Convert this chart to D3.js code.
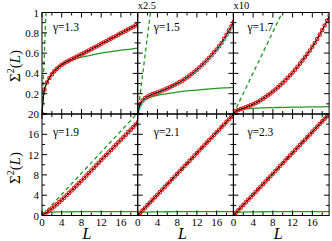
<!DOCTYPE html>
<html><head><meta charset="utf-8">
<script src="https://cdn.jsdelivr.net/npm/d3@7"></script>
<style>body{margin:0;background:#fff}svg{display:block}</style>
</head><body><svg id="c" width="332" height="241"></svg>
<script>
// ---------- data ----------
const markerL = [0,0.5,1,1.5,2,2.5,3,3.5,4,4.5,5,5.5,6,6.5,7,7.5,8,8.5,9,9.5,10,10.5,11,11.5,12,12.5,13,13.5,14,14.5,15,15.5,16,16.5,17,17.5,18,18.5,19,19.5];
const redA = [0,0.24,0.31,0.355,0.39,0.42,0.445,0.465,0.485,0.50,0.515,0.527,0.54,0.552,0.564,0.576,0.588,0.60,0.613,0.626,0.639,0.652,0.665,0.678,0.691,0.704,0.717,0.73,0.743,0.756,0.769,0.782,0.795,0.808,0.821,0.834,0.847,0.86,0.873,0.886];
const redB = [0,0.25,0.33,0.39,0.43,0.46,0.49,0.51,0.53,0.555,0.58,0.605,0.63,0.66,0.69,0.72,0.75,0.785,0.82,0.86,0.90,0.945,0.99,1.04,1.09,1.145,1.20,1.26,1.32,1.385,1.45,1.52,1.59,1.67,1.75,1.85,1.95,2.06,2.16,2.27];
const redC = [0,0.28,0.40,0.49,0.57,0.66,0.75,0.85,0.96,1.08,1.21,1.36,1.51,1.67,1.84,2.02,2.21,2.41,2.62,2.84,3.07,3.31,3.56,3.82,4.09,4.37,4.66,4.96,5.27,5.59,5.92,6.26,6.62,7.0,7.4,7.82,8.26,8.72,9.2,9.7];
const redD = [0,0.3,0.65,1.02,1.4,1.8,2.2,2.63,3.07,3.52,3.98,4.45,4.92,5.4,5.88,6.37,6.86,7.35,7.85,8.35,8.86,9.37,9.88,10.4,10.92,11.42,11.92,12.42,12.92,13.42,13.92,14.42,14.92,15.42,15.92,16.42,16.92,17.42,17.92,18.42];
const redE = [0,0.51,1.03,1.54,2.05,2.56,3.08,3.59,4.1,4.61,5.13,5.64,6.15,6.66,7.18,7.69,8.2,8.71,9.23,9.74,10.25,10.76,11.28,11.79,12.3,12.81,13.33,13.84,14.35,14.86,15.38,15.89,16.4,16.91,17.43,17.94,18.45,18.96,19.48,19.99];
const redF = [0,0.52,1.03,1.55,2.06,2.58,3.09,3.61,4.12,4.64,5.15,5.67,6.18,6.7,7.21,7.73,8.24,8.76,9.27,9.79,10.3,10.82,11.33,11.85,12.36,12.88,13.39,13.91,14.42,14.94,15.45,15.97,16.48,17.0,17.51,18.03,18.54,19.06,19.57,20.09];

const cyanL = [0,2,4,6,8,10,12,14,16,18,19.4];
const cyanB = [0,0.43,0.53,0.63,0.745,0.89,1.07,1.29,1.55,1.88,2.15];

const greenL = [0,0.25,0.5,1,1.5,2,3,4,6,8,10,12,14,16,18,19.4];
const greenA = [0,0.17,0.23,0.31,0.36,0.40,0.45,0.49,0.53,0.56,0.58,0.60,0.615,0.63,0.64,0.65];
const greenB = [0,0.15,0.22,0.30,0.35,0.38,0.43,0.46,0.50,0.54,0.57,0.59,0.61,0.63,0.645,0.655];
const greenC = [0,0.20,0.28,0.38,0.44,0.48,0.53,0.56,0.60,0.63,0.65,0.67,0.685,0.70,0.71,0.72];
const greenLow = [0,0.35,0.5,0.6,0.65,0.68,0.71,0.72,0.74,0.75,0.76,0.765,0.77,0.775,0.78,0.78];

const dashL = [[0,0.8],[0,2.58],[0,9.9],[0,19.4],[0,19.4],[0,19.4]];
const dashV = [[0,1.0],[0,2.5],[0,10],[0,20.2],[0,19.9],[0,20.0]];

const gammaLabels = ["γ=1.3","γ=1.5","γ=1.7","γ=1.9","γ=2.1","γ=2.3"];
const yMax = [1,2.5,10,20,20,20];
const scaleNotes = ["","x2.5","x10"];
const xTickLabels = ["0","4","8","12","16"];
const yTickLabelsTop = ["","0.2","0.4","0.6","0.8","1"];
const yTickLabelsBottom = ["0","4","8","12","16","20"];

const reds = [redA,redB,redC,redD,redE,redF];
const greens = [greenA,greenB,greenC,greenLow,greenLow,greenLow];

// ---------- layout ----------
const svg = d3.select("#c");
const mLeft = 42, mTop = 12.5, colW = 95.7, rowH = 101.5;
const font = "'Liberation Serif','Times New Roman',serif";
const green = "#1f9a1f";

for (let p = 0; p < 6; p++) {
  const col = p % 3, row = Math.floor(p / 3);
  const x0 = mLeft + col * colW, y0 = mTop + row * rowH;
  const x = d3.scaleLinear().domain([0, 19.4]).range([x0, x0 + colW]);
  const y = d3.scaleLinear().domain([0, yMax[p]]).range([y0 + rowH, y0]);
  const g = svg.append("g");
  const cid = "clip" + p;
  svg.append("clipPath").attr("id", cid).append("rect")
    .attr("x", x0).attr("y", y0).attr("width", colW).attr("height", rowH);
  const pg = g.append("g").attr("clip-path", `url(#${cid})`);
  const line = d3.line().x(d => x(d[0])).y(d => y(d[1])).curve(d3.curveMonotoneX);

  pg.append("path").datum(greenL.map((l, i) => [l, greens[p][i]]))
    .attr("d", line).attr("fill", "none").attr("stroke", green).attr("stroke-width", 1.3);
  pg.append("path").datum(dashL[p].map((l, i) => [l, dashV[p][i]]))
    .attr("d", d3.line().x(d => x(d[0])).y(d => y(d[1])))
    .attr("fill", "none").attr("stroke", green).attr("stroke-width", 1.3).attr("stroke-dasharray", "4,3");
  const rd = markerL.map((l, i) => [l, reds[p][i]]);
  pg.selectAll("circle").data(rd).join("circle")
    .attr("cx", d => x(d[0])).attr("cy", d => y(d[1])).attr("r", 1.7)
    .attr("fill", "none").attr("stroke", "#ff1a1a").attr("stroke-width", 1.2);
  if (p === 1) {
    pg.append("path").datum(cyanL.map((l, i) => [l, cyanB[i]]))
      .attr("d", line).attr("fill", "none").attr("stroke", "#22d3d3").attr("stroke-width", 1);
  }
  pg.append("path").datum(rd).attr("d", line)
    .attr("fill", "none").attr("stroke", "#000").attr("stroke-width", 1);

  g.append("rect").attr("x", x0).attr("y", y0).attr("width", colW).attr("height", rowH)
    .attr("fill", "none").attr("stroke", "#000").attr("stroke-width", 1);

  const xt = d3.range(0, 19.4, 2);
  xt.forEach(v => {
    const len = (v % 4 === 0) ? 5 : 3;
    g.append("line").attr("x1", x(v)).attr("x2", x(v)).attr("y1", y0 + rowH).attr("y2", y0 + rowH - len).attr("stroke", "#000");
    g.append("line").attr("x1", x(v)).attr("x2", x(v)).attr("y1", y0).attr("y2", y0 + len).attr("stroke", "#000");
  });
  const ystep = yMax[p] / 10;
  for (let k = 0; k <= 10; k++) {
    const v = k * ystep;
    const len = (k % 2 === 0) ? 5 : 3;
    g.append("line").attr("x1", x0).attr("x2", x0 + len).attr("y1", y(v)).attr("y2", y(v)).attr("stroke", "#000");
    g.append("line").attr("x1", x0 + colW).attr("x2", x0 + colW - len).attr("y1", y(v)).attr("y2", y(v)).attr("stroke", "#000");
  }

  if (col === 0) {
    const labs = row === 0 ? yTickLabelsTop : yTickLabelsBottom;
    labs.forEach((t, k) => {
      if (!t) return;
      svg.append("text").attr("x", x0 - 3).attr("y", y(k * yMax[p] / 5) + 4)
        .attr("text-anchor", "end").attr("font-family", font).attr("font-size", 11).text(t);
    });
  }
  if (row === 1) {
    xTickLabels.forEach(t => {
      svg.append("text").attr("x", x(+t)).attr("y", y0 + rowH + 10.5)
        .attr("text-anchor", "middle").attr("font-family", font).attr("font-size", 11).text(t);
    });
    svg.append("text").attr("x", x0 + colW / 2 - 3).attr("y", 239)
      .attr("text-anchor", "middle").attr("font-family", font).attr("font-style", "italic")
      .attr("font-size", 16).text("L");
  }
  if (row === 0 && scaleNotes[col]) {
    svg.append("text").attr("x", x0).attr("y", 9).attr("font-family", font).attr("font-size", 10.5).text(scaleNotes[col]);
  }
  const gx = [11, 16, 14][col];
  svg.append("text").attr("x", x0 + gx).attr("y", y0 + (row === 0 ? 18 : 22))
    .attr("font-family", font).attr("font-size", 11.5).text(gammaLabels[p]);
}

[66, 168].forEach(cy => {
  const t = svg.append("text").attr("transform", `translate(20,${cy}) rotate(-90)`)
    .attr("text-anchor", "middle").attr("font-family", font).attr("font-size", 15);
  t.append("tspan").text("Σ");
  t.append("tspan").attr("dy", -6).attr("font-size", 10).text("2");
  t.append("tspan").attr("dy", 6).text("(");
  t.append("tspan").attr("font-style", "italic").text("L");
  t.append("tspan").text(")");
});
</script>
</body></html>
